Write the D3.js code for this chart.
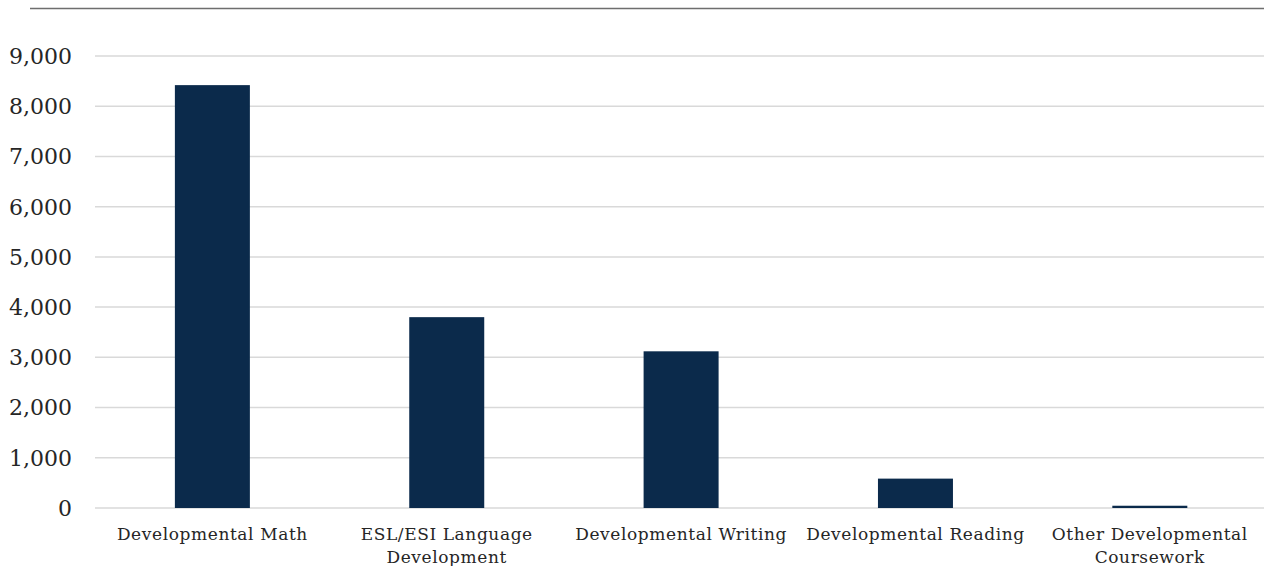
<!DOCTYPE html>
<html lang="en">
<head>
  <meta charset="UTF-8" />
  <title>Developmental coursework</title>
  <script src="https://d3js.org/d3.v7.min.js"></script>
  <style>
    body { margin: 0; background: #fff; }
    svg { display: block; }
    .ytick text { font-family: "DejaVu Serif", serif; font-size: 22px; fill: #262626; }
    .xlab { font-family: "DejaVu Serif", serif; font-size: 17px; letter-spacing: 0.6px; fill: #262626; }
  </style>
</head>
<body>
<svg width="1264" height="566"></svg>
<script>
  const categories = [
    ["Developmental Math"],
    ["ESL/ESI Language", "Development"],
    ["Developmental Writing"],
    ["Developmental Reading"],
    ["Other Developmental", "Coursework"]
  ];
  const values = [8420, 3800, 3120, 585, 45];
  const yTicks = [0, 1000, 2000, 3000, 4000, 5000, 6000, 7000, 8000, 9000];

  const svg = d3.select("svg");
  const keys = categories.map(c => c.join(" "));

  const x = d3.scaleBand()
              .domain(keys)
              .range([95.2, 1267])
              .paddingInner(0.68)
              .paddingOuter(0.34);

  const y = d3.scaleLinear()
              .domain([0, 9000])
              .range([508, 56]);

  // top rule
  svg.append("line")
     .attr("x1", 30).attr("x2", 1264)
     .attr("y1", 8.5).attr("y2", 8.5)
     .attr("stroke", "#6e6e6e")
     .attr("stroke-width", 1.3);

  // gridlines
  svg.append("g")
     .selectAll("line")
     .data(yTicks)
     .enter()
     .append("line")
     .attr("x1", 95).attr("x2", 1264)
     .attr("y1", d => y(d)).attr("y2", d => y(d))
     .attr("stroke", "#d9d9d9")
     .attr("stroke-width", 1.5);

  // y labels
  const fmt = d3.format(",");
  svg.append("g")
     .attr("class", "ytick")
     .selectAll("text")
     .data(yTicks)
     .enter()
     .append("text")
     .attr("x", 72)
     .attr("y", d => y(d))
     .attr("dy", "0.36em")
     .attr("text-anchor", "end")
     .text(d => fmt(d));

  // bars
  svg.append("g")
     .selectAll("rect")
     .data(values)
     .enter()
     .append("rect")
     .attr("x", (d, i) => x(keys[i]))
     .attr("width", x.bandwidth())
     .attr("y", d => y(d))
     .attr("height", d => y(0) - y(d))
     .attr("fill", "#0b2a4b");

  // category labels
  const lab = svg.append("g")
                 .selectAll("text")
                 .data(categories)
                 .enter()
                 .append("text")
                 .attr("class", "xlab")
                 .attr("text-anchor", "middle")
                 .attr("x", (d, i) => x(keys[i]) + x.bandwidth() / 2)
                 .attr("y", 540);

  lab.selectAll("tspan")
     .data(d => d)
     .enter()
     .append("tspan")
     .attr("x", function () { return d3.select(this.parentNode).attr("x"); })
     .attr("dy", (d, i) => i === 0 ? 0 : 23)
     .text(d => d);
</script>
</body>
</html>
